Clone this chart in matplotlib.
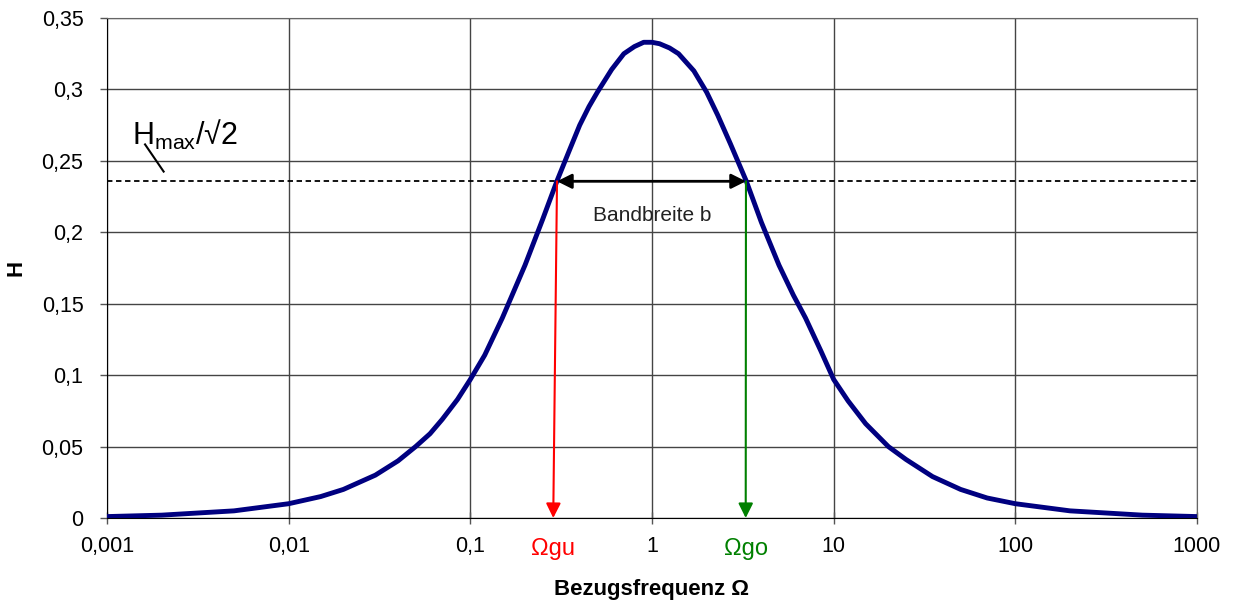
#Bandpass Übertragungsfunktion, Bandbreite
import matplotlib
matplotlib.use("Agg")
from matplotlib import pyplot as plt
from matplotlib.ticker import FixedLocator, FixedFormatter, NullLocator

#Daten
omega = [0.001, 0.002, 0.005, 0.01, 0.015, 0.02, 0.03, 0.04, 0.05, 0.06, 0.07, 0.085, 0.1, 0.12, 0.15, 0.2, 0.25,
         0.3, 0.35, 0.4, 0.45, 0.5, 0.6, 0.7, 0.8, 0.9, 1,
         1.1, 1.25, 1.4, 1.7, 2, 2.3, 2.7, 3.3, 4, 5, 6, 7, 8.5, 10, 12, 15, 20, 25, 35, 50, 70, 100, 200, 500, 1000]
H = [0.001, 0.002, 0.005, 0.010, 0.015, 0.020, 0.030, 0.040, 0.050, 0.059, 0.069, 0.083, 0.097, 0.114, 0.140, 0.177, 0.209,
     0.236, 0.257, 0.275, 0.288, 0.298, 0.314, 0.325, 0.330, 0.333, 0.333,
     0.332, 0.329, 0.325, 0.313, 0.298, 0.282, 0.262, 0.236, 0.207, 0.177, 0.156, 0.140, 0.117, 0.097, 0.082, 0.066, 0.050, 0.041, 0.029, 0.020, 0.014, 0.010, 0.005, 0.002, 0.001]
H_grenz = 0.2357
omega_gu = [0.300, 0.286]   #oben, unten
omega_go = [3.29, 3.28]
xticks = [0.001, 0.01, 0.1, 1, 10, 100, 1000]
xlabels = ["0,001", "0,01", "0,1", "1", "10", "100", "1000"]
yticks = [0, 0.05, 0.1, 0.15, 0.2, 0.25, 0.3, 0.35]
ylabels = ["0", "0,05", "0,1", "0,15", "0,2", "0,25", "0,3", "0,35"]

plt.rcParams['font.family'] = ['Liberation Sans', 'DejaVu Sans']
plt.rcParams['font.size'] = 15.5

fig = plt.figure(figsize=(12.37, 6.07), dpi=100)
ax = fig.add_axes([107/1237, 1-518/607, (1197-107)/1237, 500/607])

ax.set_xscale("log")
ax.set_xlim(0.001, 1000)
ax.set_ylim(0, 0.35)
ax.xaxis.set_major_locator(FixedLocator(xticks))
ax.xaxis.set_major_formatter(FixedFormatter(xlabels))
ax.xaxis.set_minor_locator(NullLocator())
ax.set_yticks(yticks)
ax.set_yticklabels(ylabels)
ax.tick_params(axis="x", direction="inout", length=8, width=1, colors="#555555", labelcolor="black", pad=9)
ax.tick_params(axis="y", direction="out", length=5, width=1, colors="#555555", labelcolor="black", pad=12)
ax.grid(True, color="#444444", linewidth=1)
ax.set_axisbelow(True)
for s in ["top", "right"]:
    ax.spines[s].set_color("#666666")
ax.spines["left"].set_color("black")
ax.spines["bottom"].set_color("black")

#Kurve
ax.plot(omega, H, color="#000080", linewidth=3.5, zorder=4, solid_joinstyle="round")

#Hmax/sqrt(2) Linie
ax.axhline(H_grenz, color="black", linestyle=(0, (3, 2)), linewidth=1.3, zorder=3)
ax.text(0.00138, 0.268, r"H$_\mathregular{max}$/√2", fontsize=22, ha="left", va="center")
ax.plot([0.00162, 0.00205], [0.2615, 0.2425], color="black", linewidth=1.5)

#Bandbreite
ax.annotate("", xy=(omega_gu[0], H_grenz), xytext=(omega_go[0], H_grenz),
            arrowprops=dict(arrowstyle="<|-|>", color="black", lw=2, mutation_scale=22, shrinkA=0, shrinkB=0), zorder=5)
ax.text(1.0, 0.212, "Bandbreite b", fontsize=15, ha="center", va="center", color="#222222")

#Grenzfrequenzen
ax.annotate("", xy=(omega_gu[1], 0), xytext=(omega_gu[0], H_grenz),
            arrowprops=dict(arrowstyle="-|>", color="red", lw=1.5, mutation_scale=22, shrinkA=0, shrinkB=0), zorder=5)
ax.annotate("", xy=(omega_go[1], 0), xytext=(omega_go[0], H_grenz),
            arrowprops=dict(arrowstyle="-|>", color="green", lw=1.5, mutation_scale=22, shrinkA=0, shrinkB=0), zorder=5)
ax.text(omega_gu[1], -0.0215, "Ωgu", color="red", fontsize=17, ha="center", va="center")
ax.text(omega_go[1], -0.0215, "Ωgo", color="green", fontsize=17, ha="center", va="center")

ax.set_xlabel("Bezugsfrequenz Ω", fontweight="bold", fontsize=16, labelpad=16)
ax.set_ylabel("H", fontweight="bold", fontsize=16)
ax.yaxis.set_label_coords(-0.074, 0.5)

plt.savefig("out.png", dpi=100)
